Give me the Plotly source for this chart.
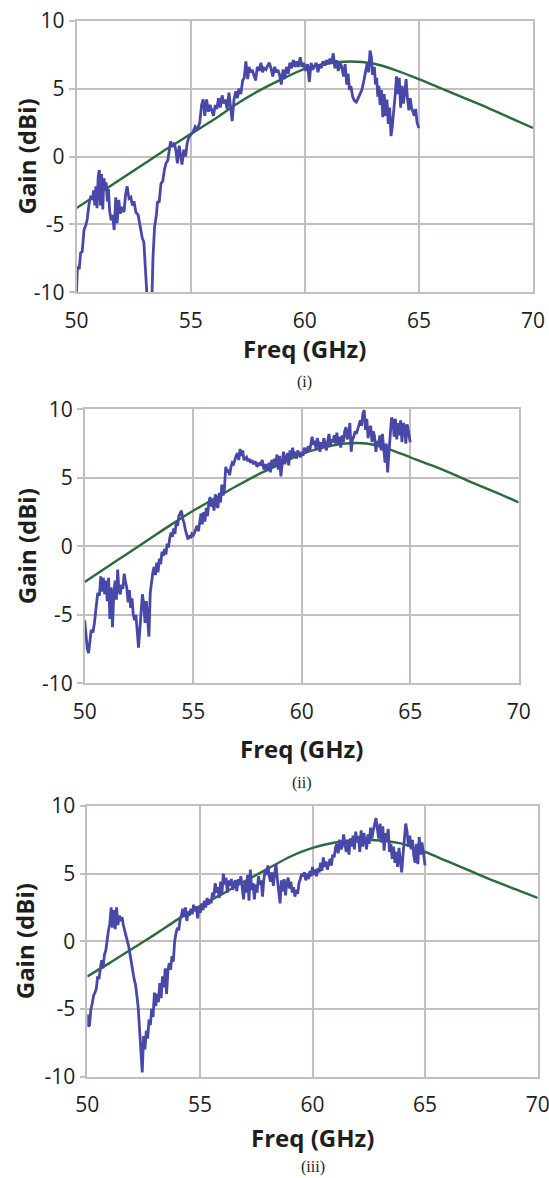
import plotly.graph_objects as go

# ---------------- Data ----------------
sim_freq = [50, 51, 52, 53, 54, 55, 56, 57, 58, 59, 60, 61, 62, 63, 64, 65, 66, 67, 68, 69, 70]
sim_gain_i = [-3.8, -2.7, -1.6, -0.5, 0.6, 1.65, 2.7, 3.85, 4.85, 5.7, 6.45, 6.85, 7.0, 6.85, 6.35, 5.7, 5.0, 4.3, 3.6, 2.85, 2.1]
sim_gain_ii = [-2.6, -1.55, -0.5, 0.55, 1.6, 2.6, 3.5, 4.4, 5.25, 6.0, 6.75, 7.2, 7.5, 7.5, 7.1, 6.5, 5.9, 5.25, 4.55, 3.9, 3.2]
sim_gain_iii = [-2.6, -1.6, -0.55, 0.5, 1.6, 2.6, 3.5, 4.45, 5.35, 6.25, 6.9, 7.3, 7.5, 7.45, 7.2, 6.6, 5.9, 5.2, 4.5, 3.85, 3.2]

meas_freq_i = [
    50.00, 50.04, 50.12, 50.18, 50.25, 50.33, 50.42, 50.47, 50.55, 50.62, 50.70, 50.75, 50.80, 50.85, 50.90, 50.95,
    51.00, 51.05, 51.10, 51.15, 51.20, 51.25, 51.30, 51.35, 51.40, 51.45, 51.52, 51.58, 51.65, 51.72, 51.78, 51.85,
    51.92, 52.00, 52.08, 52.15, 52.22, 52.30, 52.38, 52.45, 52.52, 52.60, 52.70, 52.80, 52.88, 52.95, 53.00, 53.08,
    53.15, 53.28, 53.35, 53.42, 53.50, 53.55, 53.62, 53.70, 53.78, 53.85, 53.92, 54.00, 54.05, 54.12, 54.20, 54.28,
    54.35, 54.42, 54.50, 54.55, 54.62, 54.70, 54.78, 54.85, 54.92, 55.00, 55.10, 55.20, 55.30, 55.40, 55.48, 55.55,
    55.62, 55.70, 55.78, 55.85, 55.92, 56.00, 56.08, 56.15, 56.22, 56.30, 56.38, 56.45, 56.52, 56.60, 56.68, 56.75,
    56.82, 56.90, 56.98, 57.05, 57.12, 57.20, 57.28, 57.35, 57.42, 57.50, 57.56, 57.63, 57.70, 57.77, 57.85, 57.92,
    58.00, 58.08, 58.15, 58.22, 58.30, 58.38, 58.45, 58.52, 58.60, 58.68, 58.75, 58.82, 58.90, 58.97, 59.05, 59.12,
    59.20, 59.28, 59.35, 59.42, 59.50, 59.58, 59.65, 59.72, 59.80, 59.88, 59.95, 60.05, 60.12, 60.20, 60.28, 60.35,
    60.42, 60.50, 60.58, 60.65, 60.72, 60.80, 60.88, 60.95, 61.02, 61.10, 61.18, 61.25, 61.32, 61.40, 61.47, 61.55,
    61.62, 61.70, 61.77, 61.84, 61.90, 61.96, 62.02, 62.10, 62.18, 62.26, 62.34, 62.42, 62.50, 62.58, 62.66, 62.74,
    62.80, 62.86, 62.92, 62.97, 63.05, 63.10, 63.15, 63.20, 63.25, 63.30, 63.36, 63.42, 63.48, 63.54, 63.60, 63.66,
    63.72, 63.78, 63.84, 63.90, 63.96, 64.02, 64.08, 64.14, 64.20, 64.26, 64.32, 64.38, 64.44, 64.50, 64.56, 64.62,
    64.68, 64.74, 64.80, 64.86, 64.92, 65.00]
meas_gain_i = [
    -10.0, -8.1, -8.3, -7.1, -7.0, -5.4, -5.0, -4.6, -3.5, -3.0, -3.1, -2.5, -3.6, -2.2, -3.8, -1.5,
    -1.0, -3.6, -1.3, -3.9, -1.6, -2.2, -1.9, -3.3, -2.4, -4.0, -4.7, -4.3, -5.4, -3.0, -4.9, -3.2,
    -4.2, -3.7, -4.1, -2.8, -2.2, -3.1, -3.0, -3.6, -3.3, -4.1, -4.3, -5.3, -6.0, -6.3, -7.5, -10.0,
    -12.0, -12.0, -7.5, -5.2, -4.3, -3.3, -3.4, -2.0, -1.8, -1.0, -0.5, -0.3, 0.5, 1.1, 0.7, 1.0,
    0.5, -0.5, 0.8, 0.0, -0.6, 0.5, 0.0, 1.0, 1.4, 1.6, 1.8, 2.2, 2.0, 2.5, 3.8, 4.2,
    3.0, 4.2, 3.3, 3.8, 3.4, 3.0, 3.8, 3.5, 4.3, 3.6, 4.5, 3.9, 4.2, 3.5, 4.7, 3.6,
    2.6, 4.2, 4.8, 4.3, 5.0, 4.6, 5.6, 5.8, 7.0, 5.7, 6.6, 6.2, 6.4, 6.0, 5.6, 6.6,
    6.3, 6.9, 6.2, 6.5, 6.4, 6.7, 6.9, 6.5, 5.9, 6.6, 6.2, 6.4, 6.0, 5.3, 6.4, 5.7,
    6.6, 6.1, 6.9, 6.5, 7.1, 6.6, 7.0, 6.6, 7.3, 6.6, 6.9, 6.3, 6.8, 5.5, 6.9, 6.4,
    6.7, 6.9, 6.2, 6.8, 6.5, 7.0, 6.7, 7.1, 6.8, 7.2, 6.9, 7.6, 6.5, 7.1, 6.3, 6.9,
    6.6, 5.9, 6.8, 5.3, 6.1, 4.9, 5.2, 4.4, 4.1, 4.0, 4.3, 4.6, 4.9, 5.5, 6.3, 6.9,
    6.2, 7.8, 7.3, 6.0, 6.6, 5.3, 5.8, 4.4, 5.2, 3.8, 4.9, 2.9, 4.6, 3.0, 4.2, 2.4,
    3.6, 1.5, 2.3, 3.8, 4.5, 5.9, 4.6, 5.8, 3.6, 5.2, 3.9, 4.7, 5.7, 4.3, 3.4, 4.3,
    3.6, 3.3, 3.0, 3.5, 2.5, 2.1]

meas_freq_ii = [
    50.00, 50.05, 50.12, 50.18, 50.25, 50.30, 50.38, 50.45, 50.53, 50.60, 50.68, 50.74, 50.80, 50.86, 50.92, 50.98,
    51.04, 51.10, 51.16, 51.22, 51.28, 51.34, 51.40, 51.46, 51.52, 51.58, 51.64, 51.70, 51.76, 51.82, 51.88, 51.94,
    52.00, 52.06, 52.12, 52.18, 52.24, 52.30, 52.36, 52.42, 52.48, 52.54, 52.60, 52.66, 52.72, 52.78, 52.84, 52.90,
    52.96, 53.02, 53.08, 53.14, 53.20, 53.26, 53.32, 53.38, 53.44, 53.50, 53.56, 53.62, 53.68, 53.74, 53.80, 53.86,
    53.92, 53.98, 54.04, 54.10, 54.16, 54.22, 54.28, 54.34, 54.40, 54.46, 54.52, 54.58, 54.64, 54.70, 54.76, 54.82,
    54.88, 54.94, 55.00, 55.06, 55.12, 55.18, 55.24, 55.30, 55.36, 55.42, 55.48, 55.54, 55.60, 55.66, 55.72, 55.78,
    55.84, 55.90, 55.96, 56.02, 56.08, 56.14, 56.20, 56.26, 56.32, 56.38, 56.44, 56.50, 56.56, 56.62, 56.68, 56.74,
    56.80, 56.86, 56.92, 56.98, 57.04, 57.10, 57.16, 57.22, 57.28, 57.34, 57.40, 57.46, 57.52, 57.58, 57.64, 57.70,
    57.78, 57.86, 57.94, 58.02, 58.10, 58.18, 58.26, 58.34, 58.42, 58.50, 58.56, 58.62, 58.68, 58.74, 58.80, 58.86,
    58.92, 58.98, 59.04, 59.10, 59.16, 59.22, 59.28, 59.34, 59.40, 59.46, 59.52, 59.58, 59.64, 59.70, 59.76, 59.82,
    59.88, 59.94, 60.00, 60.06, 60.12, 60.18, 60.24, 60.30, 60.36, 60.42, 60.48, 60.54, 60.60, 60.66, 60.72, 60.78,
    60.84, 60.90, 60.96, 61.02, 61.08, 61.14, 61.20, 61.26, 61.32, 61.38, 61.44, 61.50, 61.56, 61.62, 61.68, 61.74,
    61.80, 61.86, 61.92, 61.98, 62.04, 62.10, 62.16, 62.22, 62.28, 62.34, 62.40, 62.46, 62.52, 62.58, 62.64, 62.70,
    62.76, 62.82, 62.88, 62.94, 63.00, 63.06, 63.12, 63.18, 63.24, 63.30, 63.36, 63.42, 63.48, 63.54, 63.60, 63.66,
    63.72, 63.78, 63.84, 63.90, 63.96, 64.02, 64.08, 64.14, 64.20, 64.26, 64.32, 64.38, 64.44, 64.50, 64.56, 64.62,
    64.68, 64.74, 64.80, 64.86, 64.92, 65.00]
meas_gain_ii = [
    -5.4, -6.3, -7.5, -7.8, -6.6, -6.1, -6.3, -5.6, -4.4, -3.4, -3.6, -2.2, -3.3, -2.3, -3.5, -2.5,
    -4.0, -2.3, -5.3, -3.0, -5.9, -3.5, -2.5, -3.9, -1.7, -3.3, -3.5, -2.8, -3.1, -2.0, -2.6, -3.0,
    -4.1, -3.2, -4.5, -3.8, -5.0, -5.4, -5.0, -6.2, -7.4, -6.1, -4.9, -3.5, -4.2, -5.6, -4.0, -5.2,
    -6.6, -3.4, -2.6, -1.9, -1.5, -2.1, -1.2, -1.9, -0.9, -1.3, -0.4, -0.7, -0.2, -0.6, 0.2, -0.1,
    0.6, 1.0, 0.7, 1.3, 0.9, 1.8, 1.5, 2.2, 2.4, 2.6, 2.0, 1.7, 1.2, 0.9, 0.5, 0.8,
    0.6, 0.9, 0.8, 1.0, 1.3, 1.5, 1.1, 2.0, 2.4, 1.6, 2.5, 1.8, 2.8, 2.2, 3.2, 3.6,
    2.9, 3.3, 2.6, 3.8, 3.0, 2.8, 3.9, 3.2, 4.5, 3.7, 4.2, 5.8, 5.4, 5.6, 5.2, 5.8,
    6.1, 6.0, 6.4, 6.6, 6.8, 6.3, 7.1, 6.6, 7.0, 6.3, 6.4, 6.5, 6.2, 6.4, 6.1, 6.3,
    6.0, 6.2, 5.8, 6.1, 5.9, 6.3, 5.6, 6.0, 5.5, 6.1, 5.4, 6.3, 5.8, 6.4, 5.9, 6.7,
    5.6, 6.6, 5.1, 6.3, 6.9, 6.0, 6.5, 6.8, 5.9, 7.0, 6.5, 7.2, 6.6, 6.9, 6.4, 7.0,
    6.7, 6.5, 6.9, 6.6, 7.2, 6.8, 7.0, 7.3, 6.9, 7.5, 8.0, 7.4, 7.7, 7.1, 7.9, 7.5,
    6.9, 7.6, 7.2, 7.9, 7.4, 7.0, 7.7, 8.2, 7.3, 7.8, 7.6, 8.1, 7.5, 8.3, 7.4, 8.0,
    7.2, 8.1, 7.6, 8.4, 8.7, 7.8, 8.1, 9.0, 6.9, 7.8, 8.0, 8.4, 8.2, 8.6, 8.9, 9.2,
    8.8, 9.7, 9.95, 8.5, 9.3, 7.9, 8.6, 8.8, 7.6, 8.4, 8.0, 6.9, 7.7, 7.4, 8.1, 7.0,
    8.2, 7.3, 6.1, 7.5, 5.4, 6.8, 8.5, 9.4, 9.2, 8.0, 9.3, 7.8, 9.0, 8.1, 9.2, 7.6,
    9.0, 8.8, 7.5, 8.9, 8.4, 7.6]

meas_freq_iii = [
    50.00, 50.05, 50.10, 50.16, 50.22, 50.28, 50.34, 50.40, 50.46, 50.52, 50.58, 50.64, 50.70, 50.76, 50.82, 50.88,
    50.94, 51.00, 51.06, 51.12, 51.18, 51.24, 51.30, 51.36, 51.42, 51.48, 51.54, 51.60, 51.66, 51.72, 51.78, 51.84,
    51.90, 51.96, 52.02, 52.08, 52.14, 52.20, 52.26, 52.32, 52.38, 52.44, 52.50, 52.56, 52.62, 52.68, 52.74, 52.80,
    52.86, 52.92, 52.98, 53.04, 53.10, 53.16, 53.22, 53.28, 53.34, 53.40, 53.46, 53.52, 53.58, 53.64, 53.70, 53.76,
    53.82, 53.88, 53.94, 54.00, 54.06, 54.12, 54.18, 54.24, 54.30, 54.36, 54.42, 54.48, 54.54, 54.60, 54.66, 54.72,
    54.78, 54.84, 54.90, 54.96, 55.02, 55.08, 55.14, 55.20, 55.26, 55.32, 55.38, 55.44, 55.50, 55.56, 55.62, 55.68,
    55.74, 55.80, 55.86, 55.92, 55.98, 56.04, 56.10, 56.16, 56.22, 56.28, 56.34, 56.40, 56.46, 56.52, 56.58, 56.64,
    56.70, 56.76, 56.82, 56.88, 56.94, 57.00, 57.06, 57.12, 57.18, 57.24, 57.30, 57.36, 57.42, 57.48, 57.54, 57.60,
    57.66, 57.72, 57.78, 57.84, 57.90, 57.96, 58.02, 58.08, 58.14, 58.20, 58.26, 58.32, 58.38, 58.44, 58.50, 58.56,
    58.62, 58.68, 58.74, 58.80, 58.86, 58.92, 58.98, 59.04, 59.10, 59.16, 59.22, 59.28, 59.34, 59.40, 59.46, 59.52,
    59.58, 59.64, 59.70, 59.76, 59.82, 59.88, 59.94, 60.00, 60.06, 60.12, 60.18, 60.24, 60.30, 60.36, 60.42, 60.48,
    60.54, 60.60, 60.66, 60.72, 60.78, 60.84, 60.90, 60.96, 61.02, 61.08, 61.14, 61.20, 61.26, 61.32, 61.38, 61.44,
    61.50, 61.56, 61.62, 61.68, 61.74, 61.80, 61.86, 61.92, 61.98, 62.04, 62.10, 62.16, 62.22, 62.28, 62.34, 62.40,
    62.46, 62.52, 62.58, 62.64, 62.70, 62.76, 62.82, 62.88, 62.94, 63.00, 63.06, 63.12, 63.18, 63.24, 63.30, 63.36,
    63.42, 63.48, 63.54, 63.60, 63.66, 63.72, 63.78, 63.84, 63.90, 63.96, 64.02, 64.08, 64.14, 64.20, 64.26, 64.32,
    64.38, 64.44, 64.50, 64.56, 64.62, 64.68, 64.74, 64.80, 64.86, 64.92, 65.00]
meas_gain_iii = [
    -5.4, -6.3, -6.2, -5.0, -4.6, -4.0, -3.8, -3.5, -2.6, -2.8, -2.0, -1.4, -2.0, -1.0, -0.7, 0.2,
    0.8, 1.3, 2.5, 1.0, 2.3, 0.9, 2.5, 1.2, 1.9, 1.5, 1.8, 1.2, 0.8, 0.5, -0.1, -0.4,
    -1.0, -1.5, -2.2, -2.8, -3.2, -4.0, -4.9, -6.5, -8.2, -9.7, -7.0, -8.0, -6.6, -7.2, -5.8, -6.2,
    -5.0, -5.6, -3.8, -4.8, -3.9, -4.5, -3.1, -4.2, -2.6, -3.4, -2.0, -3.9, -2.2, -1.6, -2.1, -1.1,
    -1.5, 0.0, 0.6, 1.0, 0.8, 1.6, 1.9, 2.4, 1.8, 2.5, 1.5, 2.2, 1.9, 2.4, 2.0, 2.7,
    2.2, 2.6, 1.7, 2.5, 2.1, 2.8, 2.3, 3.0, 2.5, 3.2, 2.7, 3.1, 2.8, 3.6, 3.3, 4.3,
    3.6, 4.0, 3.2, 4.4, 3.5, 5.0, 4.2, 4.7, 3.6, 4.5, 4.1, 4.6, 3.8, 4.3, 4.5, 3.7,
    4.6, 4.2, 4.8, 3.9, 3.1, 4.4, 3.6, 4.9, 3.0, 5.3, 3.8, 4.3, 3.1, 4.2, 3.6, 4.8,
    4.2, 4.5, 3.3, 4.6, 5.3, 4.9, 5.6, 4.8, 4.4, 5.1, 4.1, 5.0, 5.7, 4.6, 3.8, 2.8,
    4.5, 3.7, 4.6, 3.4, 4.3, 4.7, 3.9, 4.4, 3.6, 4.0, 3.3, 3.8, 3.5, 4.3, 4.6, 5.0,
    4.8, 5.1, 4.5, 5.0, 4.6, 5.2, 4.8, 5.5, 4.9, 5.3, 4.8, 5.4, 5.1, 5.8, 5.2, 6.2,
    5.5, 5.9, 5.3, 5.7, 6.1, 5.6, 6.4, 6.2, 6.9, 7.2, 6.5, 7.5, 6.8, 7.0, 7.9, 7.2,
    6.6, 7.4, 6.4, 7.6, 7.0, 7.8, 6.8, 8.1, 7.3, 7.8, 6.6, 8.2, 7.0, 8.0, 7.5, 6.8,
    7.9, 7.2, 8.4, 7.6, 8.2, 8.8, 9.1, 8.3, 7.6, 8.7, 7.3, 8.5, 6.7, 8.0, 7.4, 8.3,
    6.6, 7.2, 6.1, 7.0, 5.8, 6.6, 5.5, 6.9, 6.0, 5.1, 6.4, 7.6, 8.7, 8.1, 7.0, 7.8,
    6.8, 7.5, 6.3, 5.8, 7.2, 5.7, 7.7, 6.4, 7.3, 6.6, 5.6]

x_ticks = [50, 55, 60, 65, 70]
y_ticks = [-10, -5, 0, 5, 10]
x_title = "Freq (GHz)"
y_title = "Gain (dBi)"
captions = ["(i)", "(ii)", "(iii)"]

# ---------------- Layout geometry (pixels) ----------------
W, H = 549, 1178
panels = [
    dict(x0=76.5, x1=533.0, yt=20.7, yb=292.3, xt_y=348, cap_y=382, yt_x=26),
    dict(x0=84.7, x1=518.7, yt=409.3, yb=683.3, xt_y=748, cap_y=783, yt_x=26),
    dict(x0=87.3, x1=537.7, yt=806.0, yb=1076.5, xt_y=1137, cap_y=1167, yt_x=24),
]
meas = [(meas_freq_i, meas_gain_i), (meas_freq_ii, meas_gain_ii), (meas_freq_iii, meas_gain_iii)]
sims = [sim_gain_i, sim_gain_ii, sim_gain_iii]

BLUE = "#4848a8"
GREEN = "#2d6a3b"
GRID = "#c6bebe"
TXT = "#1e1e1e"

fig = go.Figure()
annotations = []
for k, p in enumerate(panels):
    n = "" if k == 0 else str(k + 1)
    xa, ya = "x" + n, "y" + n
    fig.add_trace(go.Scatter(x=sim_freq, y=sims[k], mode="lines", line=dict(color=GREEN, width=2.4, shape="spline", smoothing=0.8),
                             xaxis=xa, yaxis=ya, showlegend=False))
    fig.add_trace(go.Scatter(x=meas[k][0], y=meas[k][1], mode="lines", line=dict(color=BLUE, width=2.8),
                             xaxis=xa, yaxis=ya, showlegend=False))
    axis_common = dict(showgrid=True, gridcolor=GRID, gridwidth=1.5, zeroline=False,
                       showline=True, linecolor=GRID, linewidth=1.5, mirror=True, automargin=False,
                       ticklabeloverflow="allow",
                       tickfont=dict(family="Open Sans", size=21, color=TXT))
    fig.update_layout(**{
        "xaxis" + n: dict(domain=[p["x0"] / W, p["x1"] / W], range=[50, 70], tickvals=x_ticks,
                          ticktext=[str(v) for v in x_ticks], anchor=ya, ticks="", ticklabelstandoff=9,
                          **axis_common),
        "yaxis" + n: dict(domain=[1 - p["yb"] / H, 1 - p["yt"] / H], range=[-10, 10], tickvals=y_ticks,
                          ticktext=[str(v) for v in y_ticks], anchor=xa, ticks="outside", ticklen=6,
                          tickcolor=GRID, tickwidth=1.5, **axis_common),
    })
    xc = (p["x0"] + p["x1"]) / 2 / W
    annotations.append(dict(text="<b>%s</b>" % x_title, x=xc, y=1 - p["xt_y"] / H, xref="paper", yref="paper",
                            showarrow=False, xanchor="center", yanchor="middle",
                            font=dict(family="Open Sans", size=24, color=TXT)))
    annotations.append(dict(text=captions[k], x=xc, y=1 - p["cap_y"] / H, xref="paper", yref="paper",
                            showarrow=False, xanchor="center", yanchor="middle",
                            font=dict(family="Liberation Serif", size=16, color=TXT)))
    annotations.append(dict(text="<b>%s</b>" % y_title, x=p["yt_x"] / W, y=1 - (p["yt"] + p["yb"]) / 2 / H,
                            xref="paper", yref="paper", showarrow=False, textangle=-90,
                            xanchor="center", yanchor="middle",
                            font=dict(family="Open Sans", size=24, color=TXT)))

fig.update_layout(width=W, height=H, margin=dict(l=0, r=0, t=0, b=0, pad=0, autoexpand=False),
                  paper_bgcolor="white", plot_bgcolor="white", annotations=annotations)
fig.write_html("out.html", config={"displayModeBar": False},
               post_script="document.body.style.margin='0';document.body.style.overflow='hidden';")
